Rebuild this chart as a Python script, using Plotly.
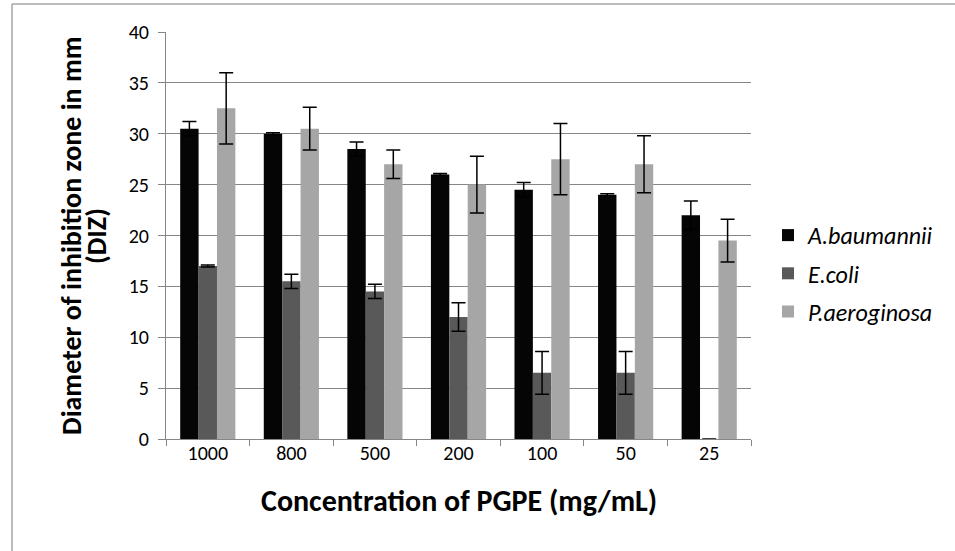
import plotly.graph_objects as go

categories = ["1000", "800", "500", "200", "100", "50", "25"]
a_baumannii = [30.5, 30.0, 28.5, 26.0, 24.5, 24.0, 22.0]
a_baumannii_err = [0.7, 0.1, 0.7, 0.1, 0.7, 0.1, 1.4]
e_coli = [17.0, 15.5, 14.5, 12.0, 6.5, 6.5, 0.0]
e_coli_err = [0.1, 0.7, 0.7, 1.4, 2.1, 2.1, 0.0]
p_aeruginosa = [32.5, 30.5, 27.0, 25.0, 27.5, 27.0, 19.5]
p_aeruginosa_err = [3.5, 2.1, 1.4, 2.8, 3.5, 2.8, 2.1]

series = [
    ("A.baumannii", a_baumannii, a_baumannii_err, "#050505"),
    ("E.coli", e_coli, e_coli_err, "#595959"),
    ("P.aeroginosa", p_aeruginosa, p_aeruginosa_err, "#a6a6a6"),
]

FONT = "Carlito, Lato, sans-serif"

fig = go.Figure()
for i, (name, vals, errs, color) in enumerate(series):
    fig.add_trace(go.Bar(
        name=name, x=categories, y=vals,
        marker=dict(color=color, line=dict(width=0)),
        error_y=dict(type="data", array=errs, visible=True,
                     color="#000000", thickness=1.5, width=7),
        legendgroup=f"g{i}",
    ))

W, H = 955, 551
L, R, T, B = 166, 204, 32, 112
pw, ph = W - L - R, H - T - B

def px_x(x):
    return (x - L) / pw

def px_y(y):
    return (H - B - y) / ph

fig.update_layout(
    width=W, height=H,
    margin=dict(l=L, r=R, t=T, b=B, pad=0),
    paper_bgcolor="white", plot_bgcolor="white",
    barmode="group", bargap=0.34, bargroupgap=0,
    font=dict(family=FONT, size=20, color="#000000"),
    showlegend=True,
    legend=dict(
        x=px_x(768), y=px_y(213), xanchor="left", yanchor="top",
        font=dict(family=FONT, size=24, color="#000000", style="italic"),
        traceorder="grouped", tracegroupgap=4,
        bgcolor="rgba(0,0,0,0)",
    ),
    xaxis=dict(
        showline=True, linecolor="#868686", linewidth=1,
        ticks="outside", tickson="boundaries", ticklen=6, tickcolor="#868686",
        tickfont=dict(family=FONT, size=20, color="#000000"),
        ticklabelstandoff=-4,
        showgrid=False,
    ),
    yaxis=dict(
        range=[0, 40], dtick=5,
        showline=True, linecolor="#868686", linewidth=1,
        ticks="outside", ticklen=7, tickcolor="#868686",
        showgrid=True, gridcolor="#868686", gridwidth=1,
        tickfont=dict(family=FONT, size=20, color="#000000"),
        ticklabelstandoff=5,
        zeroline=False,
    ),
    shapes=[
        dict(type="line", xref="paper", yref="paper",
             x0=px_x(12), x1=px_x(12), y0=px_y(4), y1=px_y(600),
             line=dict(color="#a6a6a6", width=1.5)),
        dict(type="line", xref="paper", yref="paper",
             x0=px_x(12), x1=px_x(1000), y0=px_y(4), y1=px_y(4),
             line=dict(color="#a6a6a6", width=1.5)),
    ],
    annotations=[
        dict(text="<b>Diameter of inhibition zone in mm</b>",
             xref="paper", yref="paper", x=px_x(72), y=px_y(236),
             xanchor="center", yanchor="middle", textangle=-90,
             showarrow=False, font=dict(family=FONT, size=28, color="#000000")),
        dict(text="<b>(DIZ)</b>",
             xref="paper", yref="paper", x=px_x(97), y=px_y(236),
             xanchor="center", yanchor="middle", textangle=-90,
             showarrow=False, font=dict(family=FONT, size=28, color="#000000")),
        dict(text="<b>Concentration of PGPE (mg/mL)</b>",
             xref="paper", yref="paper", x=0.5, y=px_y(500),
             xanchor="center", yanchor="middle",
             showarrow=False, font=dict(family=FONT, size=30, color="#000000")),
    ],
)

fig.write_html(
    "out.html",
    config={"displayModeBar": False},
    post_script="document.body.style.margin='0';document.body.style.overflow='hidden';",
)
